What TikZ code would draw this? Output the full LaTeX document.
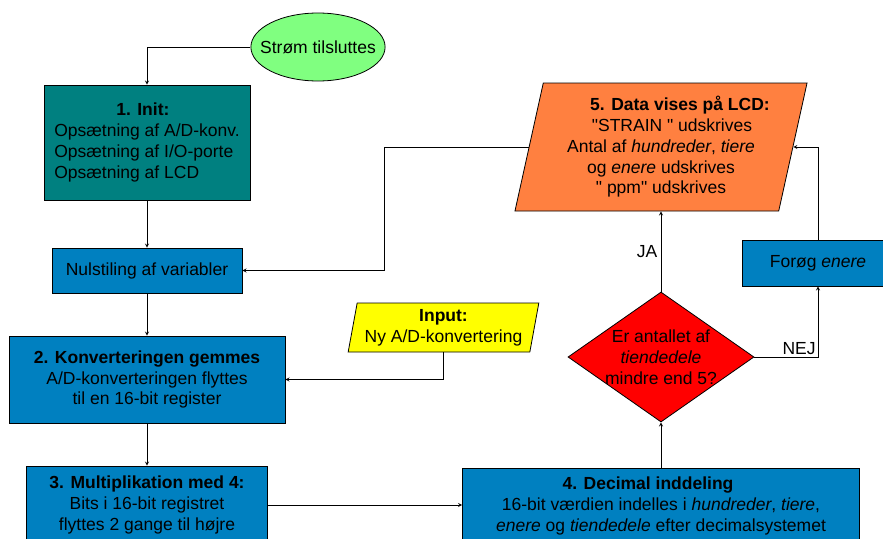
\documentclass[tikz,border=0pt]{standalone}
\usepackage{fontspec}
\setmainfont{Liberation Sans}
\usetikzlibrary{shapes.geometric}

\definecolor{startgreen}{HTML}{80FF80}
\definecolor{tealbox}{HTML}{008080}
\definecolor{bluebox}{HTML}{0080C0}
\definecolor{orangebox}{HTML}{FF8040}
\definecolor{inputyellow}{HTML}{FFFF00}
\definecolor{testred}{HTML}{FF0000}

\begin{document}
\begin{tikzpicture}[x=1pt,y=-1pt,
    every node/.style={font=\fontsize{17.5}{20.8}\selectfont},
    box/.style={draw,line width=0.8pt,rectangle,inner sep=0pt},
    slant/.style={draw,line width=0.8pt,trapezium,trapezium stretches=true,inner sep=0pt},
    arr/.style={line width=0.8pt,->,>=stealth}]
    % page size of the reference, boxes running off the edge are cut
    \useasboundingbox (0,0) rectangle (883,538);
    \clip (0,0) rectangle (883,538);

    % Start
    \node[ellipse,draw,line width=0.8pt,fill=startgreen,inner xsep=-10.4pt,inner ysep=0pt,minimum height=68] (start) at (318,47) {Strøm tilsluttes};

    % Left column
    \node[box,fill=tealbox,minimum width=206,minimum height=115,align=left] (init) at (147,142.5)
        {\hspace*{62pt}\textbf{1. Init:}\\Opsætning af A/D-konv.\\Opsætning af I/O-porte\\Opsætning af LCD};
    \node[box,fill=bluebox,minimum width=190,minimum height=45] (nulstil) at (147,270.5) {Nulstiling af variabler};
    \node[box,fill=bluebox,minimum width=276,minimum height=87,align=center] (gem) at (147,379.5)
        {\textbf{2. Konverteringen gemmes}\\A/D-konverteringen flyttes\\til en 16-bit register};
    \node[box,fill=bluebox,minimum width=241,minimum height=78,align=center] (gang) at (147,505)
        {\textbf{3. Multiplikation med 4:}\\Bits i 16-bit registret\\flyttes 2 gange til højre};

    % Input
    \node[slant,fill=inputyellow,trapezium left angle=77.3,trapezium right angle=102.7,
        minimum width=191,minimum height=49,align=center] (input) at (443.5,327.5)
        {\textbf{Input:}\\Ny A/D-konvertering};

    % Right column
    \node[box,fill=bluebox,minimum width=397,minimum height=76,align=center] (deling) at (661,506)
        {\textbf{4. Decimal inddeling}\hspace*{26pt}\\16-bit værdien indelles i \textit{hundreder}, \textit{tiere},\\\textit{enere} og \textit{tiendedele} efter decimalsystemet};
    \node[diamond,draw,line width=0.8pt,fill=testred,minimum width=186,minimum height=130,inner sep=0pt] (test) at (661,357) {};
    \node[align=center] (testtxt) at (test) {Er antallet af\\\textit{tiendedele}\\mindre end 5?};
    \node[slant,fill=orangebox,trapezium left angle=75.5,trapezium right angle=104.5,
        minimum width=293,minimum height=128,align=center] (lcd) at (661,147)
        {\hspace*{38pt}\textbf{5. Data vises på LCD:}\\\hspace*{22pt}\textquotedbl STRAIN \textquotedbl\ udskrives\\Antal af \textit{hundreder}, \textit{tiere}\\og \textit{enere} udskrives\\\textquotedbl\ ppm\textquotedbl\ udskrives};
    \node[box,fill=bluebox,minimum width=152,minimum height=46] (forog) at (818,263) {Forøg \textit{enere}};

    % Connectors
    \draw[arr] (start.west) -| (init.north);
    \draw[arr] (init) -- (nulstil);
    \draw[arr] (nulstil) -- (gem);
    \draw[arr] (gem) -- (gang);
    \draw[arr] (gang.east) -- (gang.east -| deling.west);
    \draw[arr] (deling) -- (test);
    \draw[arr] (test) -- node[left] {JA} (lcd);
    \draw[arr] (test.east) -| node[pos=0.5,above left,inner sep=2pt] {NEJ} (forog.south);
    \draw[arr] (forog.north) |- (lcd.east);
    \draw[arr] (lcd.west) -- ++(-144,0) |- (nulstil.east);
    \draw[arr] (input.south) |- (gem.east);
\end{tikzpicture}
\end{document}
